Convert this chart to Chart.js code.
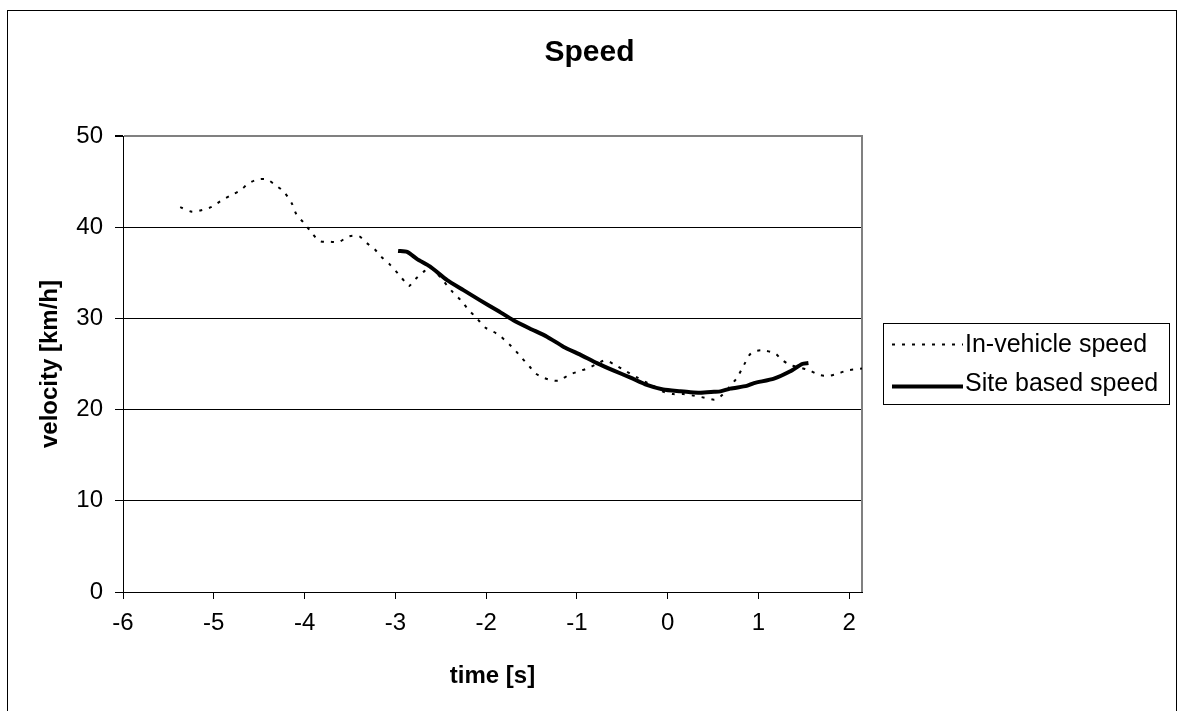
<!DOCTYPE html>
<html>
<head>
<meta charset="utf-8">
<script src="https://cdn.jsdelivr.net/npm/chart.js@4.4.1/dist/chart.umd.min.js"></script>
<style>
  html, body { margin: 0; padding: 0; background: #fff; }
  #wrap { width: 1179px; height: 711px; position: relative; }
</style>
</head>
<body>
<div id="wrap"><canvas id="c"></canvas></div>
<script>
// ---- data ----
const chartTitle = 'Speed';
const xTitle = 'time [s]';
const yTitle = 'velocity [km/h]';
const seriesNames = ['In-vehicle speed', 'Site based speed'];

const xTickValues = [-6, -5, -4, -3, -2, -1, 0, 1, 2];
const yTickValues = [0, 10, 20, 30, 40, 50];

const inVehicleTime = [-5.37, -5.24, -5.12, -5.02, -4.92, -4.81, -4.70, -4.63, -4.53, -4.42,
  -4.32, -4.23, -4.14, -4.09, -4.01, -3.91, -3.84, -3.72, -3.62, -3.51,
  -3.40, -3.32, -3.23, -3.16, -3.06, -2.97, -2.88, -2.85, -2.78, -2.69,
  -2.62, -2.55, -2.47, -2.37, -2.27, -2.20, -2.11, -2.01, -1.93, -1.85,
  -1.74, -1.68, -1.61, -1.52, -1.46, -1.37, -1.27, -1.19, -1.09, -0.98,
  -0.89, -0.78, -0.69, -0.58, -0.46, -0.35, -0.22, -0.10, -0.06, 0.06,
  0.17, 0.30, 0.41, 0.52, 0.60, 0.69, 0.77, 0.84, 0.92, 1.04,
  1.19, 1.25, 1.35, 1.46, 1.56, 1.67, 1.77, 1.86, 1.98, 2.10, 2.14];
const inVehicleSpeed = [42.2, 41.7, 41.9, 42.25, 42.9, 43.5, 44.1, 44.7, 45.2, 45.25,
  44.6, 43.9, 42.6, 41.4, 40.5, 39.25, 38.5, 38.4, 38.4, 39.0,
  39.0, 38.3, 37.6, 36.8, 35.9, 34.9, 33.85, 33.55, 34.3, 35.1,
  35.6, 35.0, 34.1, 32.9, 31.9, 31.0, 30.1, 29.0, 28.6, 28.1,
  27.1, 26.5, 25.7, 24.7, 24.0, 23.5, 23.2, 23.2, 23.8, 24.2,
  24.5, 25.0, 25.4, 24.9, 24.2, 23.6, 22.9, 22.3, 22.0, 21.7,
  21.7, 21.5, 21.3, 21.1, 21.6, 22.6, 23.6, 24.9, 26.2, 26.5,
  26.1, 25.5, 24.9, 24.6, 24.3, 23.8, 23.7, 23.9, 24.3, 24.45, 24.5];

const siteTime = [-2.97, -2.87, -2.76, -2.62, -2.43, -2.25, -2.07, -1.88, -1.70, -1.52,
  -1.33, -1.15, -0.96, -0.78, -0.60, -0.41, -0.23, -0.05, 0.14, 0.25,
  0.36, 0.51, 0.58, 0.69, 0.87, 0.95, 1.17, 1.35, 1.48, 1.55];
const siteSpeed = [37.4, 37.3, 36.5, 35.7, 34.2, 33.1, 32.0, 30.9, 29.8, 28.9,
  28.0, 26.9, 26.0, 25.1, 24.3, 23.5, 22.7, 22.2, 22.0, 21.9,
  21.85, 21.95, 22.0, 22.3, 22.6, 22.9, 23.4, 24.2, 25.0, 25.1];

const xMin = -6, xMax = 2.14, yMin = 0, yMax = 50;

// ---- build chart ----
const FONT = '"Liberation Sans", Arial, sans-serif';
const toPts = (xs, ys) => xs.map((x, i) => ({ x: x, y: ys[i] }));

const frame = {
  id: 'frame',
  beforeDatasetsDraw(chart) {
    const { ctx, chartArea: a } = chart;
    ctx.save();
    ctx.strokeStyle = '#808080';
    ctx.lineWidth = 2;
    ctx.beginPath();
    ctx.moveTo(a.right, a.top - 1);
    ctx.lineTo(a.right, a.bottom);
    ctx.stroke();
    ctx.restore();
  },
  afterDraw(chart) {
    const { ctx } = chart;
    ctx.save();
    // outer chart border
    ctx.strokeStyle = '#000';
    ctx.lineWidth = 1;
    ctx.strokeRect(7.5, 10.5, 1169, 800);
    // legend
    ctx.strokeRect(883.5, 323.5, 286, 81);
    const ds = chart.data.datasets;
    const rows = [344.5, 386.5];
    ds.forEach((d, i) => {
      ctx.save();
      ctx.strokeStyle = d.borderColor;
      ctx.lineWidth = d.borderWidth;
      ctx.setLineDash(d.borderDash || []);
      ctx.beginPath();
      ctx.moveTo(892, rows[i]);
      ctx.lineTo(963, rows[i]);
      ctx.stroke();
      ctx.restore();
      ctx.fillStyle = '#000';
      ctx.font = '25px ' + FONT;
      ctx.textBaseline = 'middle';
      ctx.textAlign = 'left';
      ctx.fillText(d.label, 965, rows[i] + (i === 0 ? 1 : -2));
    });
    ctx.restore();
  }
};

new Chart(document.getElementById('c'), {
  type: 'line',
  data: {
    datasets: [
      {
        label: seriesNames[0],
        data: toPts(inVehicleTime, inVehicleSpeed),
        borderColor: '#000',
        borderWidth: 2,
        borderDash: [3, 7],
        pointRadius: 0,
        tension: 0.3,
        fill: false
      },
      {
        label: seriesNames[1],
        data: toPts(siteTime, siteSpeed),
        borderColor: '#000',
        borderWidth: 4,
        pointRadius: 0,
        tension: 0.2,
        fill: false
      }
    ]
  },
  options: {
    responsive: true,
    maintainAspectRatio: false,
    animation: false,
    devicePixelRatio: 1,
    layout: { padding: 0 },
    plugins: {
      legend: { display: false },
      tooltip: { enabled: false },
      title: {
        display: true,
        text: chartTitle,
        color: '#000',
        font: { family: FONT, size: 30, weight: 'bold', lineHeight: 1.2 },
        padding: { top: 35, bottom: 65 }
      }
    },
    scales: {
      x: {
        type: 'linear',
        min: xMin,
        max: xMax,
        afterBuildTicks(s) { s.ticks = xTickValues.map(v => ({ value: v })); },
        afterFit(s) { s.height = 119; },
        grid: { drawOnChartArea: false, drawTicks: true, tickLength: 7, tickColor: '#000', lineWidth: 1 },
        border: { display: true, color: '#000', width: 1 },
        ticks: { color: '#000', font: { family: FONT, size: 24 }, padding: 10, maxRotation: 0 },
        title: {
          display: true, text: xTitle, color: '#000',
          font: { family: FONT, size: 24, weight: 'bold', lineHeight: 1.2 },
          padding: { top: 0, bottom: 20 }
        }
      },
      y: {
        type: 'linear',
        position: 'left',
        min: yMin,
        max: yMax,
        afterBuildTicks(s) { s.ticks = yTickValues.map(v => ({ value: v })); },
        afterFit(s) { s.width = 123; },
        grid: {
          drawTicks: true, tickLength: 8, tickColor: '#000',
          color: (c) => (c.tick && c.tick.value === yMax) ? '#808080' : '#000',
          lineWidth: (c) => (c.tick && c.tick.value === yMax) ? 2 : 1
        },
        border: { display: true, color: '#000', width: 1 },
        ticks: { color: '#000', font: { family: FONT, size: 24 }, padding: 12 },
        title: {
          display: true, text: yTitle, color: '#000',
          font: { family: FONT, size: 24, weight: 'bold', lineHeight: 1.2 },
          padding: { top: 36, bottom: 0 }
        }
      },
      y2: {
        type: 'linear',
        position: 'right',
        display: true,
        min: yMin,
        max: yMax,
        afterFit(s) { s.width = 317; },
        grid: { display: false, drawTicks: false },
        border: { display: false },
        ticks: { display: false }
      }
    }
  },
  plugins: [frame]
});
</script>
</body>
</html>
